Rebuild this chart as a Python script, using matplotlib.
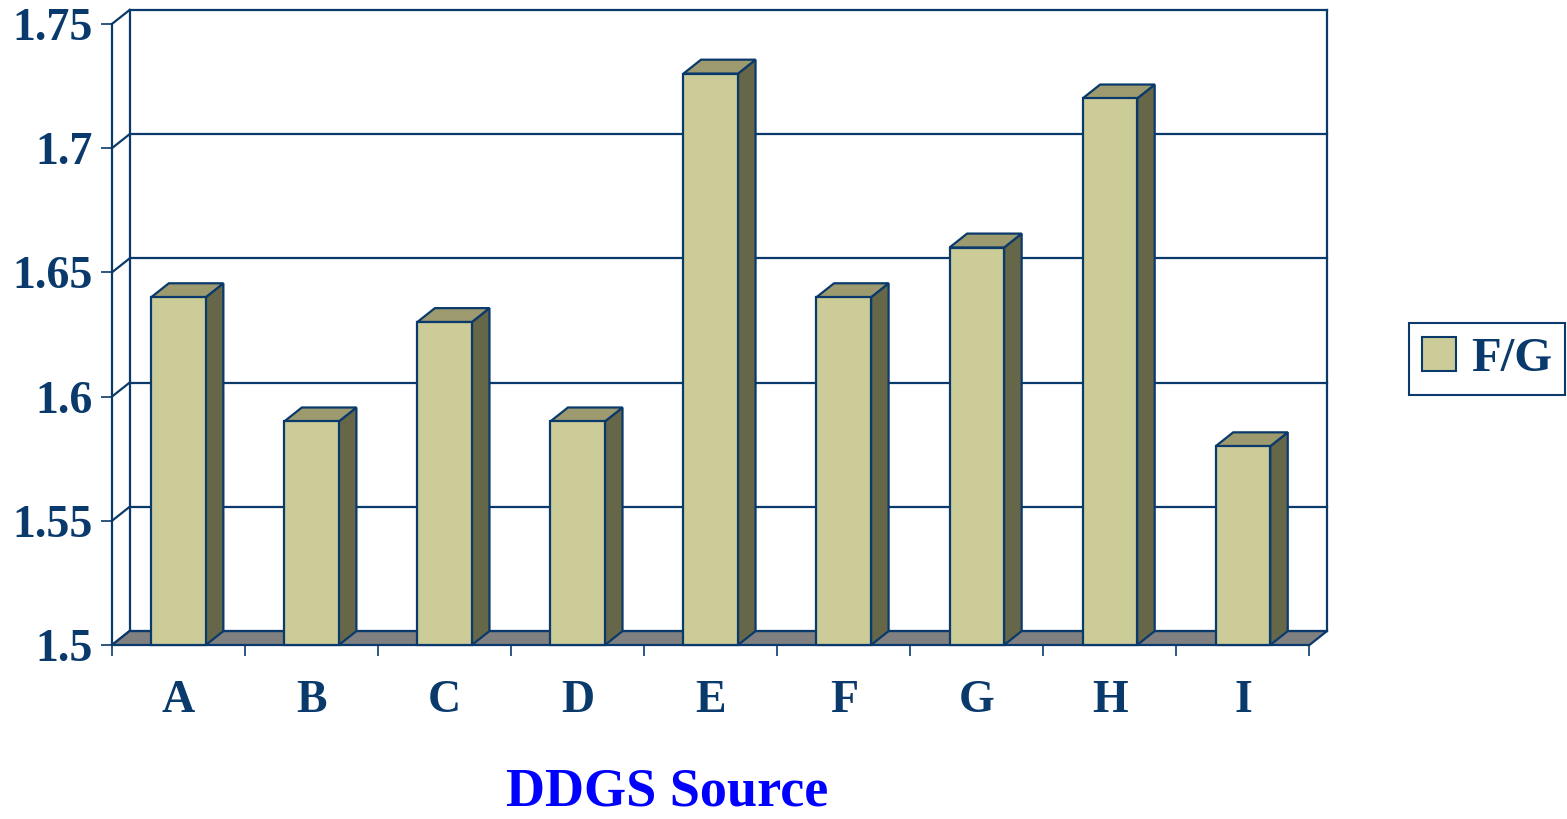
import matplotlib
matplotlib.use("Agg")
import matplotlib.pyplot as plt
from matplotlib.patches import Rectangle, Polygon, Patch

# Datos
fuentes = ['A', 'B', 'C', 'D', 'E', 'F', 'G', 'H', 'I']
fg = [1.64, 1.59, 1.63, 1.59, 1.73, 1.64, 1.66, 1.72, 1.58]
y_ticks = [1.5, 1.55, 1.6, 1.65, 1.7, 1.75]
y_labels = ['1.5', '1.55', '1.6', '1.65', '1.7', '1.75']

# Estilo
navy = '#0A3A6B'
c_front = '#CCCC99'
c_side = '#666648'
c_top = '#9C9A6E'
c_floor = '#808080'
fuente = 'Liberation Serif'

dx = 0.132     # profundidad 3D en x (unidades de categoria)
dy = 0.0056    # profundidad 3D en y (unidades de valor)
w = 0.41       # ancho de barra
y0 = y_ticks[0]
y1 = y_ticks[-1]
n = len(fuentes)

W, H = 1567, 819
fig = plt.figure(figsize=(W / 100, H / 100), dpi=100)
ax = fig.add_axes([112 / W, 1 - 645 / H, (1327 - 112) / W, (645 - 10) / H])
ax.set_xlim(-0.5, n - 0.5 + dx)
ax.set_ylim(y0, y1 + dy)
for s in ax.spines.values():
    s.set_visible(False)

lw = 1.6

# Pared trasera y lateral con grilla
for t in y_ticks:
    ax.plot([-0.5 + dx, n - 0.5 + dx], [t + dy, t + dy], color=navy, lw=lw, clip_on=False, zorder=1)
    ax.plot([-0.5, -0.5 + dx], [t, t + dy], color=navy, lw=lw, clip_on=False, zorder=1)
ax.plot([-0.5 + dx, -0.5 + dx], [y0 + dy, y1 + dy], color=navy, lw=lw, clip_on=False, zorder=1)
ax.plot([n - 0.5 + dx, n - 0.5 + dx], [y0 + dy, y1 + dy], color=navy, lw=lw, clip_on=False, zorder=1)
ax.plot([-0.5, -0.5], [y0, y1], color=navy, lw=lw, clip_on=False, zorder=1)

# Piso
piso = Polygon([(-0.5, y0), (n - 0.5, y0), (n - 0.5 + dx, y0 + dy), (-0.5 + dx, y0 + dy)],
               closed=True, facecolor=c_floor, edgecolor=navy, lw=lw, clip_on=False, zorder=2)
ax.add_patch(piso)

# Barras 3D
for i, v in enumerate(fg):
    xl = i - w / 2
    xr = i + w / 2
    frente = Rectangle((xl, y0), w, v - y0, facecolor=c_front, edgecolor=navy, lw=lw,
                       clip_on=False, zorder=3, joinstyle='miter')
    lado = Polygon([(xr, y0), (xr + dx, y0 + dy), (xr + dx, v + dy), (xr, v)], closed=True,
                   facecolor=c_side, edgecolor=navy, lw=lw, clip_on=False, zorder=3)
    techo = Polygon([(xl, v), (xl + dx, v + dy), (xr + dx, v + dy), (xr, v)], closed=True,
                    facecolor=c_top, edgecolor=navy, lw=lw, clip_on=False, zorder=3)
    ax.add_patch(lado)
    ax.add_patch(techo)
    ax.add_patch(frente)

# Ejes
ax.set_yticks(y_ticks)
ax.set_yticklabels(y_labels)
ax.tick_params(axis='y', direction='out', length=8, width=1.2, color=navy, pad=6,
               labelsize=33, labelcolor=navy)
ax.set_xticks([i - 0.5 for i in range(n + 1)])
ax.set_xticklabels([])
ax.set_xticks(range(n), minor=True)
ax.set_xticklabels(fuentes, minor=True)
ax.tick_params(axis='x', which='major', direction='out', length=8, width=1.2, color=navy)
ax.tick_params(axis='x', which='minor', length=0, pad=25, labelsize=33, labelcolor=navy)
for lab in ax.get_yticklabels() + ax.get_xticklabels(minor=True):
    lab.set_fontfamily(fuente)
    lab.set_fontweight('bold')

fig.text(667 / W, 1 / H, 'DDGS Source', ha='center', va='bottom', color='#0000FF',
         fontsize=39, fontweight='bold', family=fuente)

# Leyenda
leg = fig.legend(handles=[Patch(facecolor=c_front, edgecolor=navy, lw=1.5)], labels=['F/G'],
                 loc='center', bbox_to_anchor=(1487 / W, 1 - 359 / H), fancybox=False,
                 framealpha=1, edgecolor=navy, handlelength=0.7, handleheight=0.7,
                 handletextpad=0.3, borderpad=0.28, borderaxespad=0,
                 prop={'family': fuente, 'weight': 'bold', 'size': 35})
leg.get_frame().set_linewidth(1.5)
for t in leg.get_texts():
    t.set_color(navy)

fig.savefig('out.png', dpi=100)
